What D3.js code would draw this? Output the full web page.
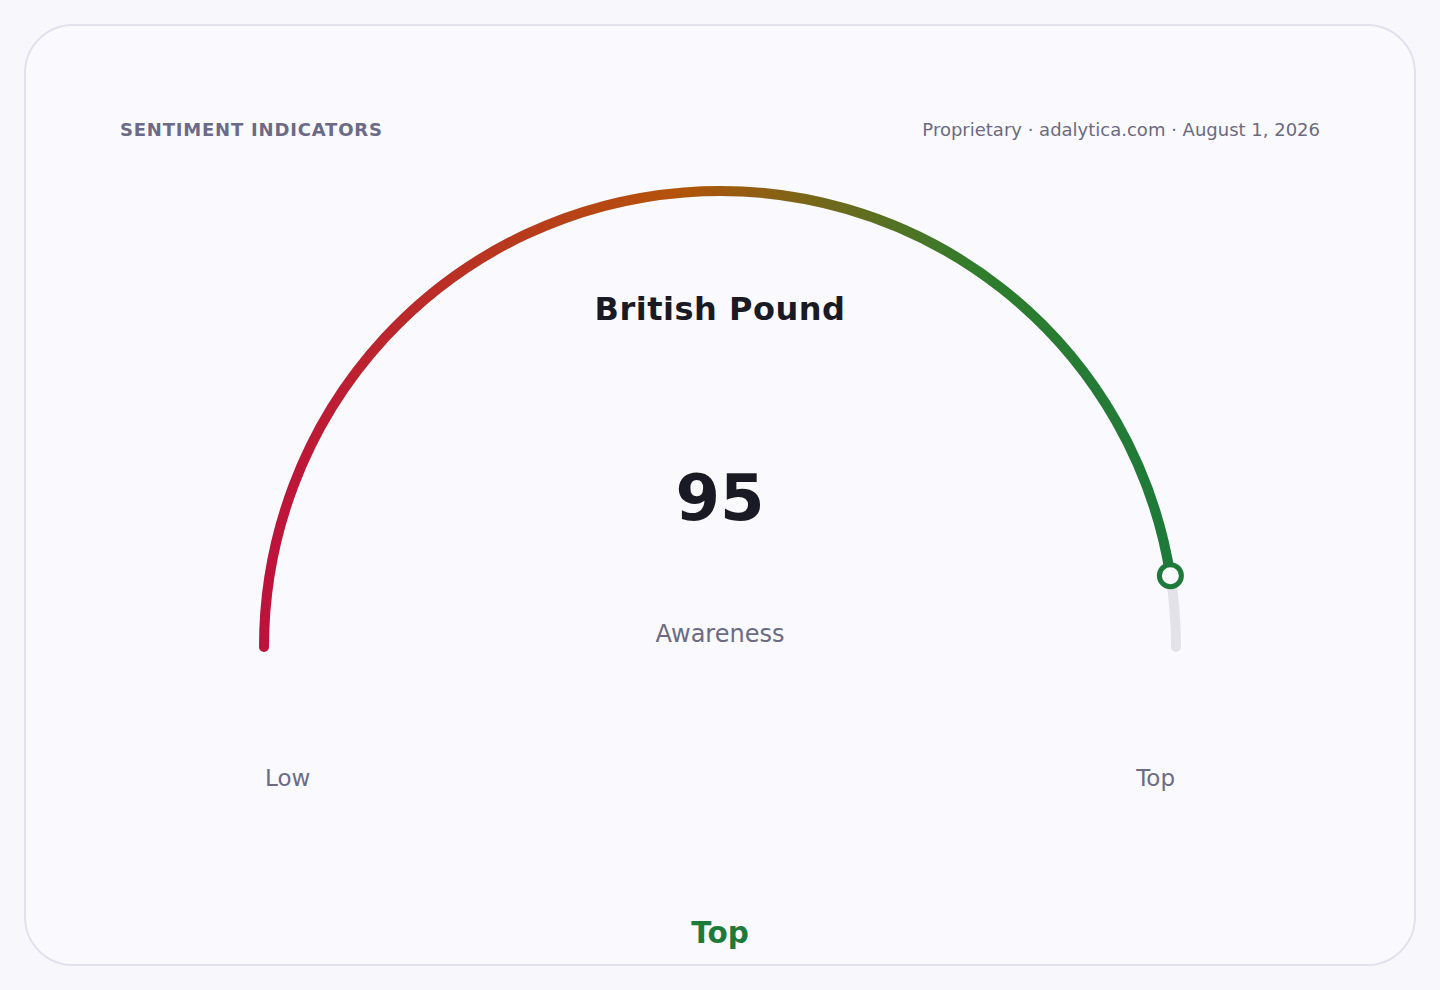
<!DOCTYPE html>
<html>
<head>
<meta charset="utf-8">
<script src="https://cdn.jsdelivr.net/npm/d3@7"></script>
<style>
  html, body { margin: 0; padding: 0; background: #f7f7fc; }
  svg { display: block; font-family: "DejaVu Sans", sans-serif; }
</style>
</head>
<body>
<svg id="chart"></svg>
<script>
    // data
    var categories = ["British Pound"];
    var metricNames = ["Awareness"];
    var values = [95];
    var valueDomain = [0, 100];
    var rangeLabels = ["Low", "Top"];
    var verdicts = ["Top"];

    var W = 1440, H = 990;
    var cx = 720, cy = 647, r = 456, thick = 10;

    var svg = d3.select("#chart")
        .attr("width", W)
        .attr("height", H);

    var defs = svg.append("defs");
    var grad = defs.append("linearGradient")
        .attr("id", "gaugeGrad")
        .attr("gradientUnits", "userSpaceOnUse")
        .attr("x1", -r).attr("y1", 0)
        .attr("x2", r).attr("y2", 0);
    grad.append("stop").attr("offset", "0%").attr("stop-color", "#be123c");
    grad.append("stop").attr("offset", "45%").attr("stop-color", "#b45309");
    grad.append("stop").attr("offset", "78%").attr("stop-color", "#2f7d2c");
    grad.append("stop").attr("offset", "100%").attr("stop-color", "#1e7a3a");

    // card
    svg.append("rect")
        .attr("x", 25).attr("y", 25)
        .attr("width", 1390).attr("height", 940)
        .attr("rx", 48)
        .attr("fill", "#f9f9fe")
        .attr("stroke", "#e2e2ef")
        .attr("stroke-width", 2);

    svg.append("text")
        .attr("x", 120).attr("y", 136)
        .attr("font-size", 18)
        .attr("font-weight", "bold")
        .attr("letter-spacing", 0.8)
        .attr("fill", "#6b6a88")
        .text("SENTIMENT INDICATORS");

    svg.append("text")
        .attr("x", 1320).attr("y", 136)
        .attr("text-anchor", "end")
        .attr("font-size", 18)
        .attr("fill", "#6b6b80")
        .text("Proprietary · adalytica.com · August 1, 2026");

    var angle = d3.scaleLinear().domain(valueDomain).range([-Math.PI / 2, Math.PI / 2]);

    // stroked arc path from domain start to value v (clockwise over the top)
    function arcPath(v) {
        var p = d3.path();
        p.arc(0, 0, r, angle(valueDomain[0]) - Math.PI / 2, angle(v) - Math.PI / 2, false);
        return p.toString();
    }

    var g = svg.append("g").attr("transform", "translate(" + cx + "," + cy + ")");

    // track
    g.append("path")
        .attr("d", arcPath(valueDomain[1]))
        .attr("fill", "none")
        .attr("stroke", "#e2e2e8")
        .attr("stroke-width", thick)
        .attr("stroke-linecap", "round");

    // value arc
    g.selectAll("path.value")
        .data(values)
        .join("path")
        .attr("class", "value")
        .attr("d", arcPath)
        .attr("fill", "none")
        .attr("stroke", "url(#gaugeGrad)")
        .attr("stroke-width", thick)
        .attr("stroke-linecap", "round");

    // marker
    g.selectAll("circle.marker")
        .data(values)
        .join("circle")
        .attr("class", "marker")
        .attr("cx", function(d) { return r * Math.sin(angle(d)); })
        .attr("cy", function(d) { return -r * Math.cos(angle(d)); })
        .attr("r", 11)
        .attr("fill", "#f9f9fe")
        .attr("stroke", "#1e7a3a")
        .attr("stroke-width", 5);

    svg.append("text")
        .attr("x", cx).attr("y", 320)
        .attr("text-anchor", "middle")
        .attr("font-size", 32)
        .attr("font-weight", "bold")
        .attr("letter-spacing", 0.5)
        .attr("fill", "#1a1a24")
        .text(categories[0]);

    svg.append("text")
        .attr("x", cx).attr("y", 520)
        .attr("text-anchor", "middle")
        .attr("font-size", 64)
        .attr("font-weight", "bold")
        .attr("fill", "#1a1a24")
        .text(values[0]);

    svg.append("text")
        .attr("x", cx).attr("y", 642)
        .attr("text-anchor", "middle")
        .attr("font-size", 24)
        .attr("fill", "#6b6b85")
        .text(metricNames[0]);

    svg.selectAll("text.range")
        .data(rangeLabels)
        .join("text")
        .attr("class", "range")
        .attr("x", function(d, i) { return cx + r * Math.sin(angle(valueDomain[i])) + (i === 0 ? 1 : -1); })
        .attr("y", 786)
        .attr("text-anchor", function(d, i) { return i === 0 ? "start" : "end"; })
        .attr("font-size", 23)
        .attr("fill", "#6b6b85")
        .text(function(d) { return d; });

    svg.append("text")
        .attr("x", cx).attr("y", 943)
        .attr("text-anchor", "middle")
        .attr("font-size", 29.5)
        .attr("font-weight", "bold")
        .attr("fill", "#1e7a3a")
        .text(verdicts[0]);
</script>
</body>
</html>
